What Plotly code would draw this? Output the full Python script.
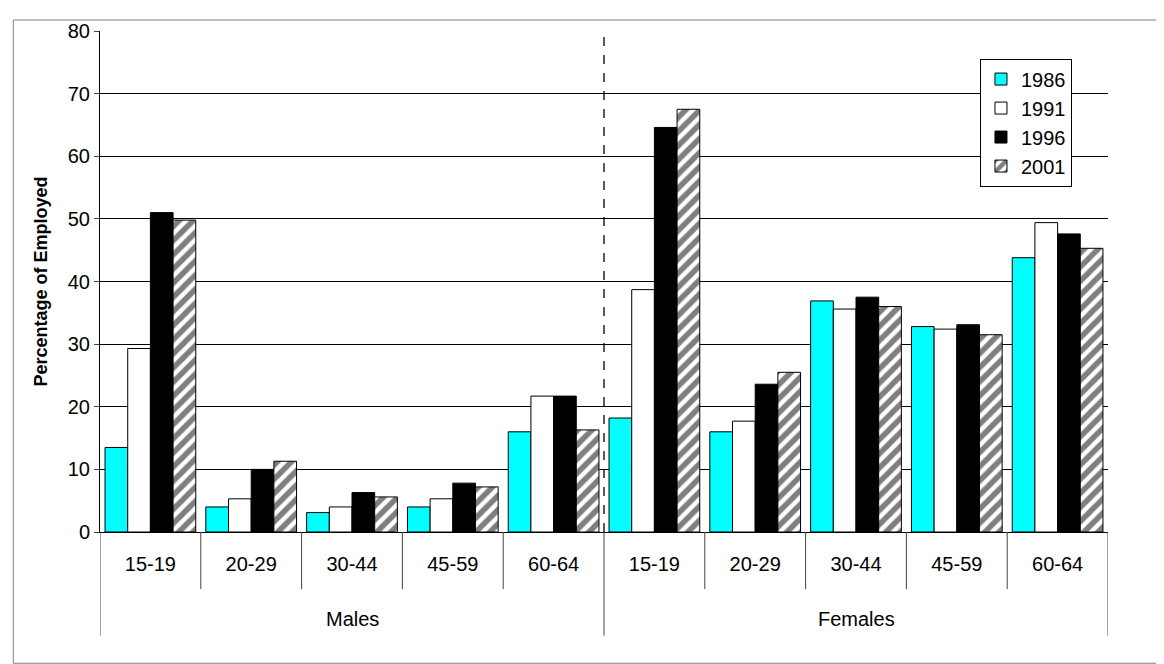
import plotly.graph_objects as go

ages = ["15-19", "20-29", "30-44", "45-59", "60-64"] * 2
groups = ["Males", "Females"]
pos = list(range(10))

y1986 = [13.5, 4.0, 3.1, 4.0, 16.0, 18.2, 16.0, 36.9, 32.8, 43.8]
y1991 = [29.3, 5.3, 4.0, 5.3, 21.7, 38.7, 17.7, 35.6, 32.4, 49.4]
y1996 = [51.0, 10.0, 6.3, 7.8, 21.7, 64.6, 23.6, 37.5, 33.1, 47.6]
y2001 = [49.8, 11.3, 5.6, 7.2, 16.3, 67.5, 25.5, 36.0, 31.5, 45.3]

edge = dict(color="black", width=1)
fig = go.Figure()
fig.add_trace(go.Bar(x=pos, y=y1986, name="1986", marker=dict(color="#00ffff", line=edge)))
fig.add_trace(go.Bar(x=pos, y=y1991, name="1991", marker=dict(color="white", line=edge)))
fig.add_trace(go.Bar(x=pos, y=y1996, name="1996", marker=dict(color="black", line=edge)))
fig.add_trace(go.Bar(x=pos, y=y2001, name="2001",
                     marker=dict(color="white", line=edge,
                                 pattern=dict(shape="/", fgcolor="black", bgcolor="white", size=10, solidity=0.55))))

# dashed divider between males and females
fig.add_shape(type="line", xref="x", yref="paper", x0=4.5, x1=4.5, y0=0, y1=1,
              line=dict(color="black", width=1.3, dash="dash"))
# category dividers below the axis
for i in range(11):
    xv = i - 0.5
    low = -0.207 if i in (0, 5, 10) else -0.114
    fig.add_shape(type="line", xref="x", yref="paper", x0=xv, x1=xv, y0=0, y1=low,
                  line=dict(color="#444", width=1))
for k, g in enumerate(groups):
    fig.add_annotation(x=2 + 5 * k, y=-0.173, xref="x", yref="paper", text=g, yanchor="middle",
                       showarrow=False, font=dict(size=20))
# outer frame
fig.add_shape(type="rect", xref="paper", yref="paper", x0=-0.086, x1=1.049, y0=-0.262, y1=1.022,
              line=dict(color="#808080", width=1))

fig.update_layout(
    width=1164, height=664,
    margin=dict(l=92, r=64, t=16, b=140),
    plot_bgcolor="white", paper_bgcolor="white",
    font=dict(family="Liberation Sans, Arial", size=20, color="black"),
    barmode="group", bargap=0.1, bargroupgap=0,
    showlegend=True,
    legend=dict(x=0.873, y=0.945, xanchor="left", yanchor="top",
                bordercolor="black", borderwidth=1, bgcolor="white",
                font=dict(size=20), tracegroupgap=14, itemwidth=30),
)
fig.update_xaxes(tickvals=pos, ticktext=ages, range=[-0.5, 9.5], showline=True, linecolor="black",
                 ticks="", tickfont=dict(size=20), showgrid=False, ticklabelstandoff=14)
fig.update_yaxes(range=[0, 80], dtick=10, showgrid=True, gridcolor="black", gridwidth=0.6,
                 showline=True, linecolor="black", ticks="outside", ticklen=5,
                 title=dict(text="<b>Percentage of Employed</b>", font=dict(size=18)),
                 tickfont=dict(size=20))

fig.write_html("out.html")
